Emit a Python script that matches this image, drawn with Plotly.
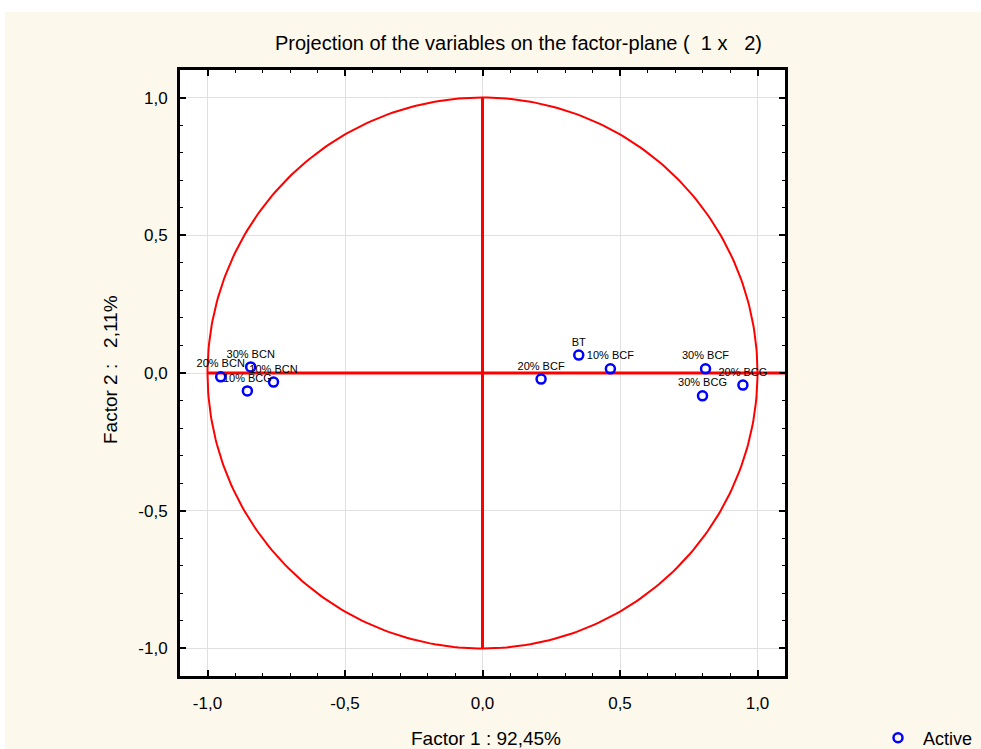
import numpy as np
import plotly.graph_objects as go

labels = ["BT", "10% BCF", "20% BCF", "30% BCF", "20% BCG", "30% BCG",
          "20% BCN", "30% BCN", "10% BCN", "10% BCG"]
factor1 = [0.350, 0.465, 0.213, 0.811, 0.947, 0.800, -0.952, -0.843, -0.760, -0.855]
factor2 = [0.065, 0.015, -0.022, 0.015, -0.044, -0.083, -0.014, 0.022, -0.033, -0.065]

title = "Projection of the variables on the factor-plane (  1 x   2)"
xtitle = "Factor 1 : 92,45%"
ytitle = "Factor 2 :   2,11%"
tick_vals = [-1.0, -0.5, 0.0, 0.5, 1.0]
tick_text = ["-1,0", "-0,5", "0,0", "0,5", "1,0"]

W, H = 981, 749
plot_l, plot_r, plot_t, plot_b = 180, 785, 70, 676  # page pixels
ml, mr, mt, mb = plot_l, W - plot_r, plot_t, H - plot_b
pw, ph = W - ml - mr, H - mt - mb

def px_x(px):
    return (px - ml) / pw

def px_y(py):
    return (H - mb - py) / ph

FONT = "Liberation Sans, Arial, sans-serif"

fig = go.Figure()

theta = np.linspace(0, 2 * np.pi, 361)
fig.add_trace(go.Scatter(x=np.cos(theta), y=np.sin(theta), mode="lines",
                         line=dict(color="#ff0000", width=2), hoverinfo="skip",
                         showlegend=False))
fig.add_trace(go.Scatter(x=[-1, 1.1], y=[0, 0], mode="lines",
                         line=dict(color="#ff0000", width=3), showlegend=False))
fig.add_trace(go.Scatter(x=[0, 0], y=[-1, 1], mode="lines",
                         line=dict(color="#ff0000", width=3), showlegend=False))

fig.add_trace(go.Scatter(x=factor1, y=factor2, mode="markers+text", text=labels,
                         textposition="top center",
                         textfont=dict(family=FONT, size=11, color="black"),
                         marker=dict(symbol="circle-open", size=9, color="#0000ff",
                                     line=dict(width=2.5, color="#0000ff")),
                         name="Active", showlegend=True))

axis_common = dict(
    range=[-1.1, 1.1], tickvals=tick_vals, ticktext=tick_text,
    showgrid=True, gridcolor="#e0e0e0", gridwidth=1,
    zeroline=False, showline=True, linecolor="black", linewidth=3, mirror="allticks",
    ticks="inside", ticklen=6, tickwidth=2, tickcolor="black",
    minor=dict(dtick=0.1, ticks="inside", ticklen=3, tickwidth=1, tickcolor="black", showgrid=False),
    tickfont=dict(family=FONT, size=17, color="black"),
)
fig.update_xaxes(**axis_common, ticklabelstandoff=10)
fig.update_yaxes(**axis_common, ticklabelstandoff=6)

fig.update_layout(
    width=W, height=H,
    margin=dict(l=ml, r=mr, t=mt, b=mb, autoexpand=False),
    paper_bgcolor="#fdf8ec", plot_bgcolor="white",
    showlegend=True,
    legend=dict(x=px_x(873), y=px_y(738), xanchor="left", yanchor="middle", itemwidth=40,
                bgcolor="rgba(0,0,0,0)", font=dict(family=FONT, size=18, color="black")),
    shapes=[
        dict(type="rect", xref="paper", yref="paper", x0=px_x(-2), x1=px_x(990),
             y0=px_y(12), y1=px_y(-2), fillcolor="white", line_width=0, layer="below"),
        dict(type="rect", xref="paper", yref="paper", x0=px_x(-2), x1=px_x(5),
             y0=px_y(760), y1=px_y(-2), fillcolor="white", line_width=0, layer="below"),
    ],
    annotations=[
        dict(text=title, x=px_x(518), y=px_y(43), xref="paper", yref="paper",
             showarrow=False, xanchor="center", yanchor="middle",
             font=dict(family=FONT, size=20, color="black")),
        dict(text=xtitle, x=px_x(486), y=px_y(738), xref="paper", yref="paper",
             showarrow=False, xanchor="center", yanchor="middle",
             font=dict(family=FONT, size=19, color="black")),
        dict(text=ytitle, x=px_x(110), y=px_y(370), xref="paper", yref="paper",
             showarrow=False, xanchor="center", yanchor="middle", textangle=-90,
             font=dict(family=FONT, size=19, color="black")),
    ],
)

fig.write_html(
    "out.html",
    config={"displayModeBar": False},
    post_script="document.documentElement.style.overflow='hidden';"
                "document.body.style.margin='0';document.body.style.overflow='hidden';",
)
